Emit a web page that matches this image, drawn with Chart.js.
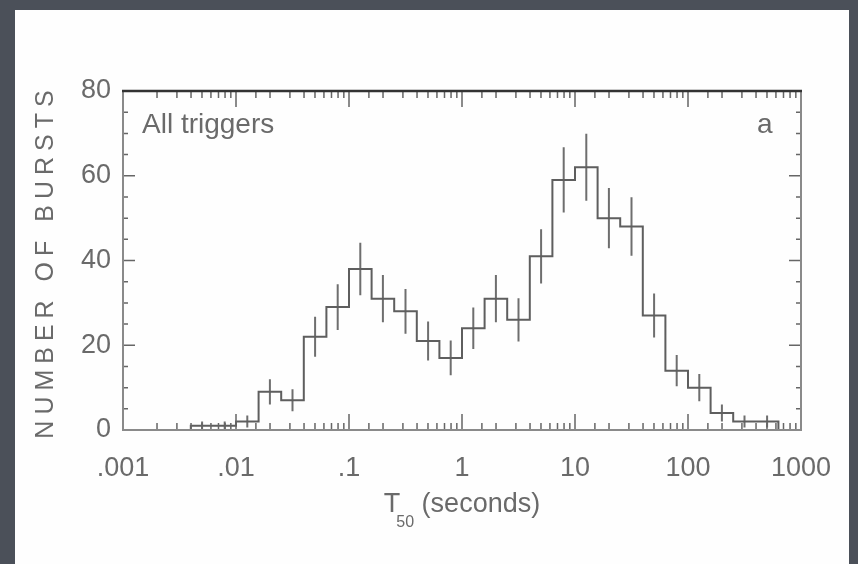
<!DOCTYPE html>
<html><head><meta charset="utf-8">
<script src="https://cdn.jsdelivr.net/npm/chart.js@4/dist/chart.umd.min.js"></script>
<style>html,body{margin:0;padding:0;background:#4b5059;overflow:hidden}canvas{display:block}</style>
</head><body>
<canvas id="c" width="858" height="564"></canvas>
<script>
// ---- data ----
const binEdgesLog = [-2.4,-2.2,-2.0,-1.8,-1.6,-1.4,-1.2,-1.0,-0.8,-0.6,-0.4,-0.2,0.0,0.2,0.4,0.6,0.8,1.0,1.2,1.4,1.6,1.8,2.0,2.2,2.4,2.6,2.8];
const counts = [1,1,2,9,7,22,29,38,31,28,21,17,24,31,26,41,59,62,50,48,27,14,10,4,2,2];
const errors = [1,1,1.4,3,2.6,4.7,5.4,6.2,5.6,5.3,4.6,4.1,4.9,5.6,5.1,6.4,7.7,7.9,7.1,6.9,5.2,3.7,3.2,2,1.4,1.4];
const xTickValues = [0.001,0.01,0.1,1,10,100,1000];
const xTickLabels = ['.001','.01','.1','1','10','100','1000'];
const yTickValues = [0,20,40,60,80];
const yTickLabels = ['0','20','40','60','80'];
const panelLabel = 'All triggers';
const panelLetter = 'a';
const yTitle = 'NUMBER OF BURSTS';
const xTitleMain = 'T', xTitleSub = '50', xTitleRest = ' (seconds)';

// ---- build datasets ----
const n = counts.length;
const histPts = [{x: 10 ** binEdgesLog[0], y: 0}];
for (let i = 0; i < n; i++) histPts.push({x: 10 ** binEdgesLog[i], y: counts[i]});
histPts.push({x: 10 ** binEdgesLog[n], y: counts[n - 1]});
histPts.push({x: 10 ** binEdgesLog[n], y: 0});

const errPts = [];
for (let i = 0; i < n; i++) {
  const xc = 10 ** ((binEdgesLog[i] + binEdgesLog[i + 1]) / 2);
  errPts.push({x: xc, y: counts[i] - errors[i]});
  errPts.push({x: xc, y: counts[i] + errors[i]});
  errPts.push({x: xc, y: null});
}

const FONT = "'Liberation Sans', Arial, Helvetica, sans-serif";
const TXT = '#6a6a6a';

const decorations = {
  id: 'decorations',
  beforeDraw(chart) {
    const ctx = chart.ctx;
    ctx.save();
    ctx.fillStyle = '#4b5059';
    ctx.fillRect(0, 0, chart.width, chart.height);
    ctx.fillStyle = '#fefefe';
    ctx.fillRect(15, 10, 834, 554);
    ctx.restore();
  },
  afterDraw(chart) {
    const ctx = chart.ctx, a = chart.chartArea;
    const xs = chart.scales.x, ys = chart.scales.y;
    ctx.save();
    // ticks
    ctx.strokeStyle = '#666';
    ctx.lineWidth = 1.5;
    ctx.beginPath();
    xs.ticks.forEach(t => {
      const p = xs.getPixelForValue(t.value);
      if (p < a.left - 0.5 || p > a.right + 0.5) return;
      const lg = Math.log10(t.value);
      const len = Math.abs(lg - Math.round(lg)) < 1e-6 ? 16 : 7;
      ctx.moveTo(p, a.bottom); ctx.lineTo(p, a.bottom - len);
      ctx.moveTo(p, a.top); ctx.lineTo(p, a.top + len);
    });
    ys.ticks.forEach(t => {
      const p = ys.getPixelForValue(t.value);
      const len = t.value % 20 === 0 ? 12 : 5;
      ctx.moveTo(a.left, p); ctx.lineTo(a.left + len, p);
      ctx.moveTo(a.right, p); ctx.lineTo(a.right - len, p);
    });
    ctx.stroke();
    // frame
    ctx.strokeStyle = '#8a8a8a';
    ctx.lineWidth = 2;
    ctx.beginPath();
    ctx.moveTo(a.left, a.top); ctx.lineTo(a.left, a.bottom); ctx.lineTo(a.right, a.bottom); ctx.lineTo(a.right, a.top);
    ctx.stroke();
    ctx.strokeStyle = '#333';
    ctx.lineWidth = 2.5;
    ctx.beginPath(); ctx.moveTo(a.left - 1, a.top); ctx.lineTo(a.right + 1, a.top); ctx.stroke();

    // texts
    ctx.fillStyle = TXT;
    ctx.textBaseline = 'alphabetic';
    ctx.font = '28px ' + FONT;
    ctx.textAlign = 'left';
    ctx.fillText(panelLabel, a.left + 19, a.top + 42);
    ctx.fillText(panelLetter, a.right - 44, a.top + 42);

    // x title with subscript
    const big = '27px ' + FONT, small = '16px ' + FONT;
    ctx.font = big; const w1 = ctx.measureText(xTitleMain).width - 4;
    const w3 = ctx.measureText(xTitleRest).width;
    ctx.font = small; const w2 = ctx.measureText(xTitleSub).width;
    const total = w1 + w2 + w3;
    let x0 = (a.left + a.right) / 2 - total / 2;
    const base = 512;
    ctx.font = big; ctx.fillText(xTitleMain, x0, base);
    ctx.font = small; ctx.fillText(xTitleSub, x0 + w1, base + 15);
    ctx.font = big; ctx.fillText(xTitleRest, x0 + w1 + w2, base);

    // y title
    ctx.translate(46, (a.top + a.bottom) / 2 + 4);
    ctx.rotate(-Math.PI / 2);
    ctx.font = '25px ' + FONT;
    ctx.letterSpacing = '6px';
    ctx.textAlign = 'center';
    ctx.textBaseline = 'middle';
    ctx.fillText(yTitle, 3, 0);
    ctx.restore();
  }
};

new Chart(document.getElementById('c'), {
  type: 'line',
  data: {
    datasets: [
      {label: 'histogram', data: histPts, stepped: 'before', borderColor: '#5e5e5e', borderWidth: 2,
       pointRadius: 0, fill: false, tension: 0},
      {label: 'errors', data: errPts, borderColor: '#6e6e6e', borderWidth: 2, pointRadius: 0,
       spanGaps: false, fill: false, tension: 0}
    ]
  },
  options: {
    responsive: false,
    animation: false,
    devicePixelRatio: 1,
    layout: {padding: {top: 91, right: 57, left: 0, bottom: 0}},
    plugins: {legend: {display: false}, tooltip: {enabled: false}, title: {display: false}},
    scales: {
      x: {
        type: 'logarithmic', min: 0.001, max: 1000,
        grid: {display: false, drawTicks: false},
        border: {display: false},
        ticks: {
          autoSkip: false, maxRotation: 0, padding: 22, color: TXT,
          font: {family: FONT, size: 27},
          callback(v) {
            const i = xTickValues.findIndex(t => Math.abs(Math.log10(t) - Math.log10(v)) < 1e-6);
            return i >= 0 ? xTickLabels[i] : '';
          }
        },
        afterFit(s) { s.height = 134; }
      },
      y: {
        type: 'linear', min: 0, max: 80,
        grid: {display: false, drawTicks: false},
        border: {display: false},
        ticks: {
          stepSize: 5, autoSkip: false, padding: 12, color: TXT,
          font: {family: FONT, size: 27},
          callback(v) { const i = yTickValues.indexOf(v); return i >= 0 ? yTickLabels[i] : ''; }
        },
        afterFit(s) { s.width = 123; }
      }
    }
  },
  plugins: [decorations]
});
</script>
</body></html>
